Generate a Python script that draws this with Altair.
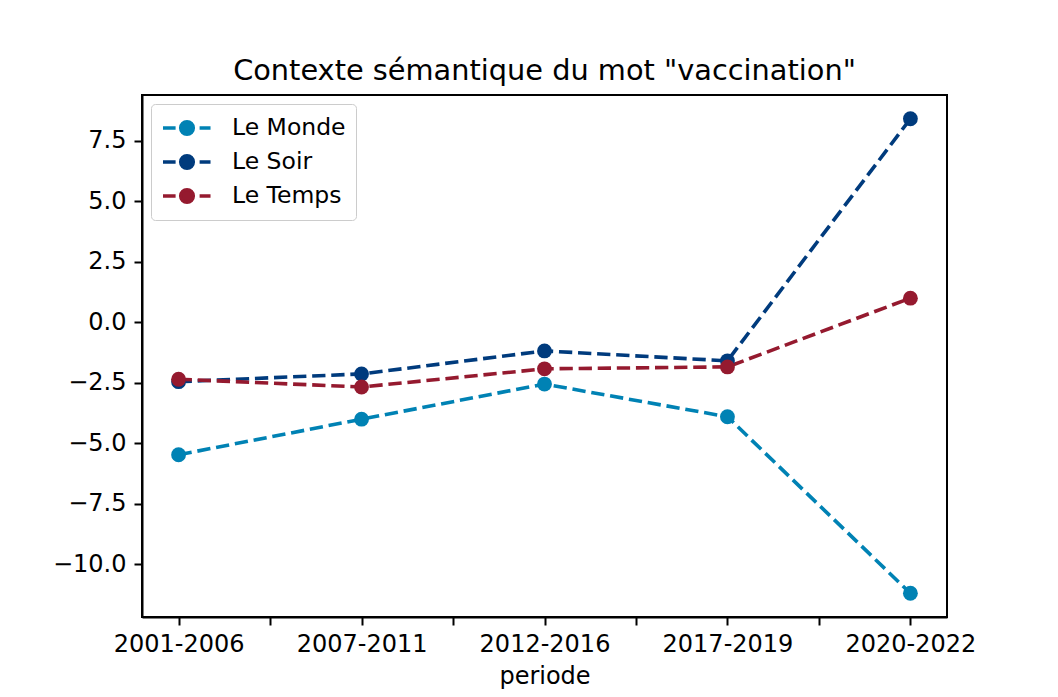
import altair as alt
import pandas as pd

periods = ["2001-2006", "2007-2011", "2012-2016", "2017-2019", "2020-2022"]
series_names = ["Le Monde", "Le Soir", "Le Temps"]
le_monde = [-5.48, -4.01, -2.56, -3.91, -11.20]
le_soir = [-2.46, -2.14, -1.19, -1.60, 8.40]
le_temps = [-2.36, -2.68, -1.93, -1.85, 0.99]
colors = ["#0082b4", "#003b7d", "#951a2f"]
y_ticks = [-10.0, -7.5, -5.0, -2.5, 0.0, 2.5, 5.0, 7.5]
x_ticks = [0, 0.5, 1, 1.5, 2, 2.5, 3, 3.5, 4]

rows = []
for name, vals in zip(series_names, [le_monde, le_soir, le_temps]):
    for i, (p, v) in enumerate(zip(periods, vals)):
        rows.append({"journal": name, "idx": i, "periode": p, "valeur": v})
df = pd.DataFrame(rows)

labels_js = "[" + ",".join("'" + p + "'" for p in periods) + "]"
label_expr = f"datum.value == floor(datum.value) ? {labels_js}[datum.value] : ''"

FONT = "DejaVu Sans"

x_enc = alt.X(
    "idx:Q",
    scale=alt.Scale(domain=[-0.2, 4.2], nice=False, zero=False),
    axis=alt.Axis(
        title="periode",
        values=x_ticks,
        labelExpr=label_expr,
        grid=False,
        labelFontSize=24,
        titleFontSize=24,
        titleFontWeight="normal",
        titlePadding=8,
        tickSize=8,
        tickWidth=2,
        tickColor="black",
        labelPadding=7,
        labelColor="black",
        titleColor="black",
        domainColor="black",
        domainWidth=2,
        labelFont=FONT,
        titleFont=FONT,
        labelFlush=False,
        labelOverlap=False,
    ),
)
y_enc = alt.Y(
    "valeur:Q",
    scale=alt.Scale(domain=[-12.18, 9.38], nice=False, zero=False),
    axis=alt.Axis(
        title=None,
        values=y_ticks,
        format=".1f",
        grid=False,
        labelFontSize=24,
        tickSize=8,
        tickWidth=2,
        tickColor="black",
        labelPadding=8,
        labelColor="black",
        domainColor="black",
        domainWidth=2,
        labelFont=FONT,
        labelFlush=False,
        labelOverlap=False,
    ),
)

# custom legend glyph: dash, filled circle, dash (unit = 12 px)
legend_path = (
    "M-1,0L0.05,0M2.05,0L2.96,0"
    "M0.47,0A0.53,0.53,0,1,0,1.53,0A0.53,0.53,0,1,0,0.47,0Z"
)

color_enc = alt.Color(
    "journal:N",
    scale=alt.Scale(domain=series_names, range=colors),
    sort=series_names,
    legend=alt.Legend(
        title=None,
        orient="top-left",
        offset=9,
        symbolType=legend_path,
        symbolSize=576,
        symbolStrokeWidth=3.4,
        labelFontSize=23.5,
        labelFont=FONT,
        labelColor="black",
        labelOffset=43,
        rowPadding=6,
        padding=10,
        strokeColor="#cccccc",
        fillColor="rgba(255,255,255,0.8)",
        cornerRadius=4,
    ),
)

base = alt.Chart(df)

lines = base.mark_line(strokeDash=[13.3, 5.8], strokeWidth=3.6).encode(
    x=x_enc, y=y_enc, color=color_enc, detail="journal:N"
)
points = base.mark_circle(size=220, opacity=1).encode(
    x=x_enc, y=y_enc, color=color_enc
)

chart = (
    alt.layer(lines, points)
    .properties(
        width=805,
        height=522,
        autosize=alt.AutoSizeParams(type="none"),
        padding={"left": 134, "top": 87, "right": 103, "bottom": 72},
        title=alt.TitleParams(
            'Contexte sémantique du mot "vaccination"',
            fontSize=28.8,
            font=FONT,
            fontWeight="normal",
            color="black",
            anchor="middle",
            baseline="alphabetic",
            offset=-14,
        ),
    )
    .configure(background="white")
    .configure_view(stroke="black", strokeWidth=2)
)

chart.save("out.html", embed_options={"renderer": "svg", "actions": False})
